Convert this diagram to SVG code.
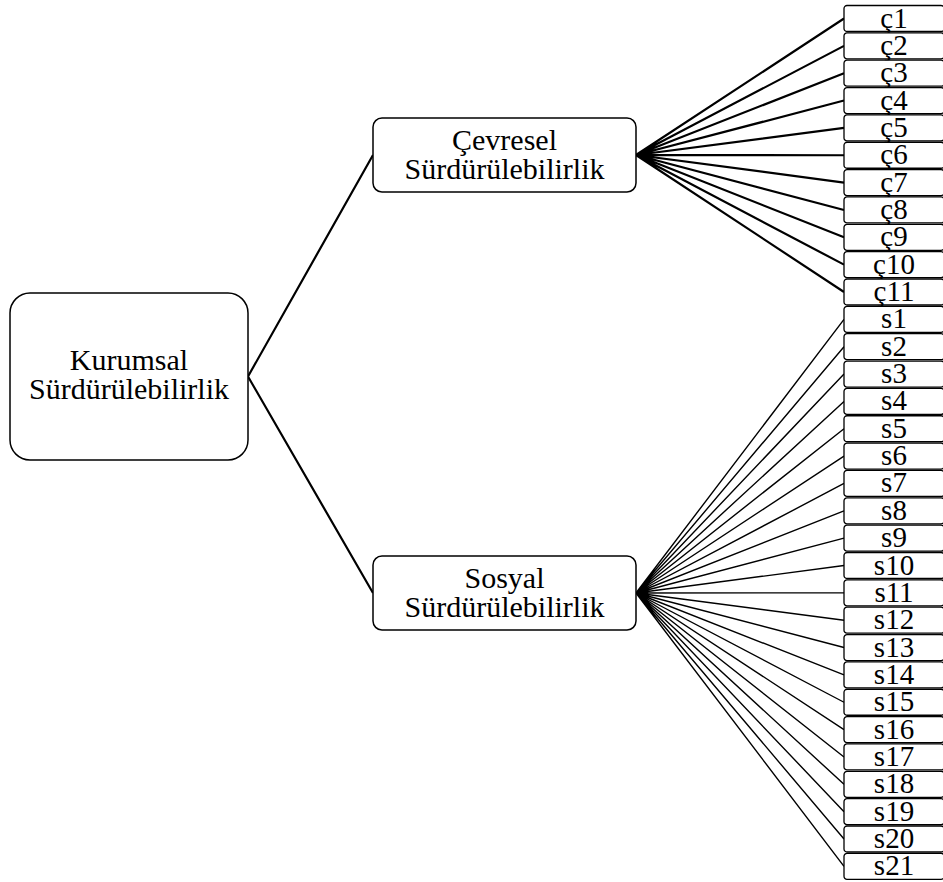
<svg xmlns="http://www.w3.org/2000/svg" width="943" height="882" viewBox="0 0 943 882">
<style>
.box{fill:#fff;stroke:#000;stroke-width:1.5}
.sb{fill:#fff;stroke:#000;stroke-width:1.3}
text{font-family:'Times New Roman','Liberation Serif',Times,'DejaVu Serif',serif;fill:#000;text-anchor:middle}
.t{font-size:30px}
.u{font-size:29px}
.c{stroke:#000;stroke-width:2.2;fill:none}
.cs{stroke:#000;stroke-width:1.4;fill:none}
</style>
<rect width="943" height="882" fill="#fff"/>
<g id="connectors">
<path class="c" d="M248 376.5L373 155M248 376.5L373 593"/>
<path class="c" d="M636 155L844 18.5M636 155L844 45.85M636 155L844 73.2M636 155L844 100.55M636 155L844 127.9M636 155L844 155.25M636 155L844 182.6M636 155L844 209.95M636 155L844 237.3M636 155L844 264.65M636 155L844 292"/>
<path class="cs" d="M636 593L844 319.35M636 593L844 346.7M636 593L844 374.05M636 593L844 401.4M636 593L844 428.75M636 593L844 456.1M636 593L844 483.45M636 593L844 510.8M636 593L844 538.15M636 593L844 565.5M636 593L844 592.85M636 593L844 620.2M636 593L844 647.55M636 593L844 674.9M636 593L844 702.25M636 593L844 729.6M636 593L844 756.95M636 593L844 784.3M636 593L844 811.65M636 593L844 839M636 593L844 866.35"/>
</g>
<g id="kurumsal">
<rect class="box" x="10" y="293" width="238" height="167" rx="20"/>
<text class="t" x="129" y="370">Kurumsal</text>
<text class="t" x="129" y="399">Sürdürülebilirlik</text>
</g>
<g id="cevresel">
<rect class="box" x="373" y="118" width="263" height="74" rx="9"/>
<text class="t" x="504.5" y="150">Çevresel</text>
<text class="t" x="504.5" y="179">Sürdürülebilirlik</text>
</g>
<g id="sosyal">
<rect class="box" x="373" y="556" width="263" height="74" rx="9"/>
<text class="t" x="504.5" y="588">Sosyal</text>
<text class="t" x="504.5" y="617">Sürdürülebilirlik</text>
</g>
<g id="c1" transform="translate(844,5.5)"><rect class="sb" width="100" height="26" rx="3"/><text class="u" x="50" y="22">ç1</text></g>
<g id="c2" transform="translate(844,32.85)"><rect class="sb" width="100" height="26" rx="3"/><text class="u" x="50" y="22">ç2</text></g>
<g id="c3" transform="translate(844,60.2)"><rect class="sb" width="100" height="26" rx="3"/><text class="u" x="50" y="22">ç3</text></g>
<g id="c4" transform="translate(844,87.55)"><rect class="sb" width="100" height="26" rx="3"/><text class="u" x="50" y="22">ç4</text></g>
<g id="c5" transform="translate(844,114.9)"><rect class="sb" width="100" height="26" rx="3"/><text class="u" x="50" y="22">ç5</text></g>
<g id="c6" transform="translate(844,142.25)"><rect class="sb" width="100" height="26" rx="3"/><text class="u" x="50" y="22">ç6</text></g>
<g id="c7" transform="translate(844,169.6)"><rect class="sb" width="100" height="26" rx="3"/><text class="u" x="50" y="22">ç7</text></g>
<g id="c8" transform="translate(844,196.95)"><rect class="sb" width="100" height="26" rx="3"/><text class="u" x="50" y="22">ç8</text></g>
<g id="c9" transform="translate(844,224.3)"><rect class="sb" width="100" height="26" rx="3"/><text class="u" x="50" y="22">ç9</text></g>
<g id="c10" transform="translate(844,251.65)"><rect class="sb" width="100" height="26" rx="3"/><text class="u" x="50" y="22">ç10</text></g>
<g id="c11" transform="translate(844,279)"><rect class="sb" width="100" height="26" rx="3"/><text class="u" x="50" y="22">ç11</text></g>
<g id="s1" transform="translate(844,306.35)"><rect class="sb" width="100" height="26" rx="3"/><text class="u" x="50" y="22">s1</text></g>
<g id="s2" transform="translate(844,333.7)"><rect class="sb" width="100" height="26" rx="3"/><text class="u" x="50" y="22">s2</text></g>
<g id="s3" transform="translate(844,361.05)"><rect class="sb" width="100" height="26" rx="3"/><text class="u" x="50" y="22">s3</text></g>
<g id="s4" transform="translate(844,388.4)"><rect class="sb" width="100" height="26" rx="3"/><text class="u" x="50" y="22">s4</text></g>
<g id="s5" transform="translate(844,415.75)"><rect class="sb" width="100" height="26" rx="3"/><text class="u" x="50" y="22">s5</text></g>
<g id="s6" transform="translate(844,443.1)"><rect class="sb" width="100" height="26" rx="3"/><text class="u" x="50" y="22">s6</text></g>
<g id="s7" transform="translate(844,470.45)"><rect class="sb" width="100" height="26" rx="3"/><text class="u" x="50" y="22">s7</text></g>
<g id="s8" transform="translate(844,497.8)"><rect class="sb" width="100" height="26" rx="3"/><text class="u" x="50" y="22">s8</text></g>
<g id="s9" transform="translate(844,525.15)"><rect class="sb" width="100" height="26" rx="3"/><text class="u" x="50" y="22">s9</text></g>
<g id="s10" transform="translate(844,552.5)"><rect class="sb" width="100" height="26" rx="3"/><text class="u" x="50" y="22">s10</text></g>
<g id="s11" transform="translate(844,579.85)"><rect class="sb" width="100" height="26" rx="3"/><text class="u" x="50" y="22">s11</text></g>
<g id="s12" transform="translate(844,607.2)"><rect class="sb" width="100" height="26" rx="3"/><text class="u" x="50" y="22">s12</text></g>
<g id="s13" transform="translate(844,634.55)"><rect class="sb" width="100" height="26" rx="3"/><text class="u" x="50" y="22">s13</text></g>
<g id="s14" transform="translate(844,661.9)"><rect class="sb" width="100" height="26" rx="3"/><text class="u" x="50" y="22">s14</text></g>
<g id="s15" transform="translate(844,689.25)"><rect class="sb" width="100" height="26" rx="3"/><text class="u" x="50" y="22">s15</text></g>
<g id="s16" transform="translate(844,716.6)"><rect class="sb" width="100" height="26" rx="3"/><text class="u" x="50" y="22">s16</text></g>
<g id="s17" transform="translate(844,743.95)"><rect class="sb" width="100" height="26" rx="3"/><text class="u" x="50" y="22">s17</text></g>
<g id="s18" transform="translate(844,771.3)"><rect class="sb" width="100" height="26" rx="3"/><text class="u" x="50" y="22">s18</text></g>
<g id="s19" transform="translate(844,798.65)"><rect class="sb" width="100" height="26" rx="3"/><text class="u" x="50" y="22">s19</text></g>
<g id="s20" transform="translate(844,826)"><rect class="sb" width="100" height="26" rx="3"/><text class="u" x="50" y="22">s20</text></g>
<g id="s21" transform="translate(844,853.35)"><rect class="sb" width="100" height="26" rx="3"/><text class="u" x="50" y="22">s21</text></g>
</svg>
